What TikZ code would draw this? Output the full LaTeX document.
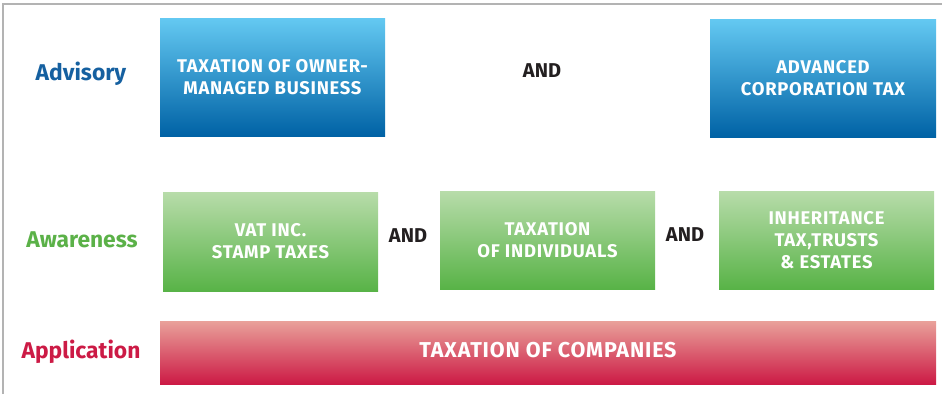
\documentclass[tikz,border=0pt]{standalone}
\usepackage{fontspec}
\setmainfont{Fira Sans}
\newfontfamily\boxfont[LetterSpace=4]{Fira Sans}
\begin{document}
\begin{tikzpicture}[x=1pt,y=-1pt,
  box/.style={inner sep=0pt, align=center, text=white,
    font=\boxfont\bfseries\fontsize{18.4}{22}\selectfont},
  bluebox/.style={box, top color=bluetop, bottom color=bluebot},
  greenbox/.style={box, top color=greentop, bottom color=greenbot},
  redbox/.style={box, top color=redtop, bottom color=redbot,
    font=\boxfont\bfseries\fontsize{21.5}{24}\selectfont},
  andtext/.style={text=andcol, font=\bfseries\fontsize{20}{22}\selectfont},
  rowlabel/.style={font=\bfseries\fontsize{22.8}{26}\selectfont}]
\definecolor{bluetop}{HTML}{64C9F2}
\definecolor{bluebot}{HTML}{0062A5}
\definecolor{greentop}{HTML}{B8DCAA}
\definecolor{greenbot}{HTML}{58B347}
\definecolor{redtop}{HTML}{E9A19A}
\definecolor{redbot}{HTML}{CC1A45}
\definecolor{andcol}{HTML}{231F20}
\definecolor{advcol}{HTML}{1560A0}
\definecolor{awacol}{HTML}{5BB148}
\definecolor{appcol}{HTML}{CC1A45}
\definecolor{framecol}{HTML}{B3B3B3}
\useasboundingbox (0,0) rectangle (942,394);
\draw[framecol, line width=2pt] (3.3,394) -- (3.3,3.5) -- (942,3.5);
% row labels
\node[rowlabel, text=advcol] (ladv) at (81,74) {Advisory};
\node[rowlabel, text=awacol] (lawa) at (82,240) {Awareness};
\node[rowlabel, text=appcol] (lapp) at (81,352) {Application};
% advisory
\node[bluebox, minimum width=225pt, minimum height=118pt] (a1) at (272.5,77) {TAXATION OF OWNER-\\MANAGED BUSINESS};
\node[andtext] (and1) at (542,71) {AND};
\node[bluebox, minimum width=226pt, minimum height=118pt] (a2) at (823,78) {ADVANCED\\CORPORATION TAX};
% awareness
\node[greenbox, minimum width=215pt, minimum height=99pt] (g1) at (270.5,241.5) {VAT INC.\\STAMP TAXES};
\node[andtext] (and2) at (408,236) {AND};
\node[greenbox, minimum width=215pt, minimum height=98pt] (g2) at (547.5,240) {TAXATION\\OF INDIVIDUALS};
\node[andtext] (and3) at (685,235) {AND};
\node[greenbox, minimum width=215pt, minimum height=98pt] (g3) at (826.5,240) {INHERITANCE\\TAX,TRUSTS\\\&\ ESTATES};
% application
\node[redbox, minimum width=776pt, minimum height=63pt, text depth=5pt] (r1) at (548,352.5) {TAXATION OF COMPANIES};
\end{tikzpicture}
\end{document}
